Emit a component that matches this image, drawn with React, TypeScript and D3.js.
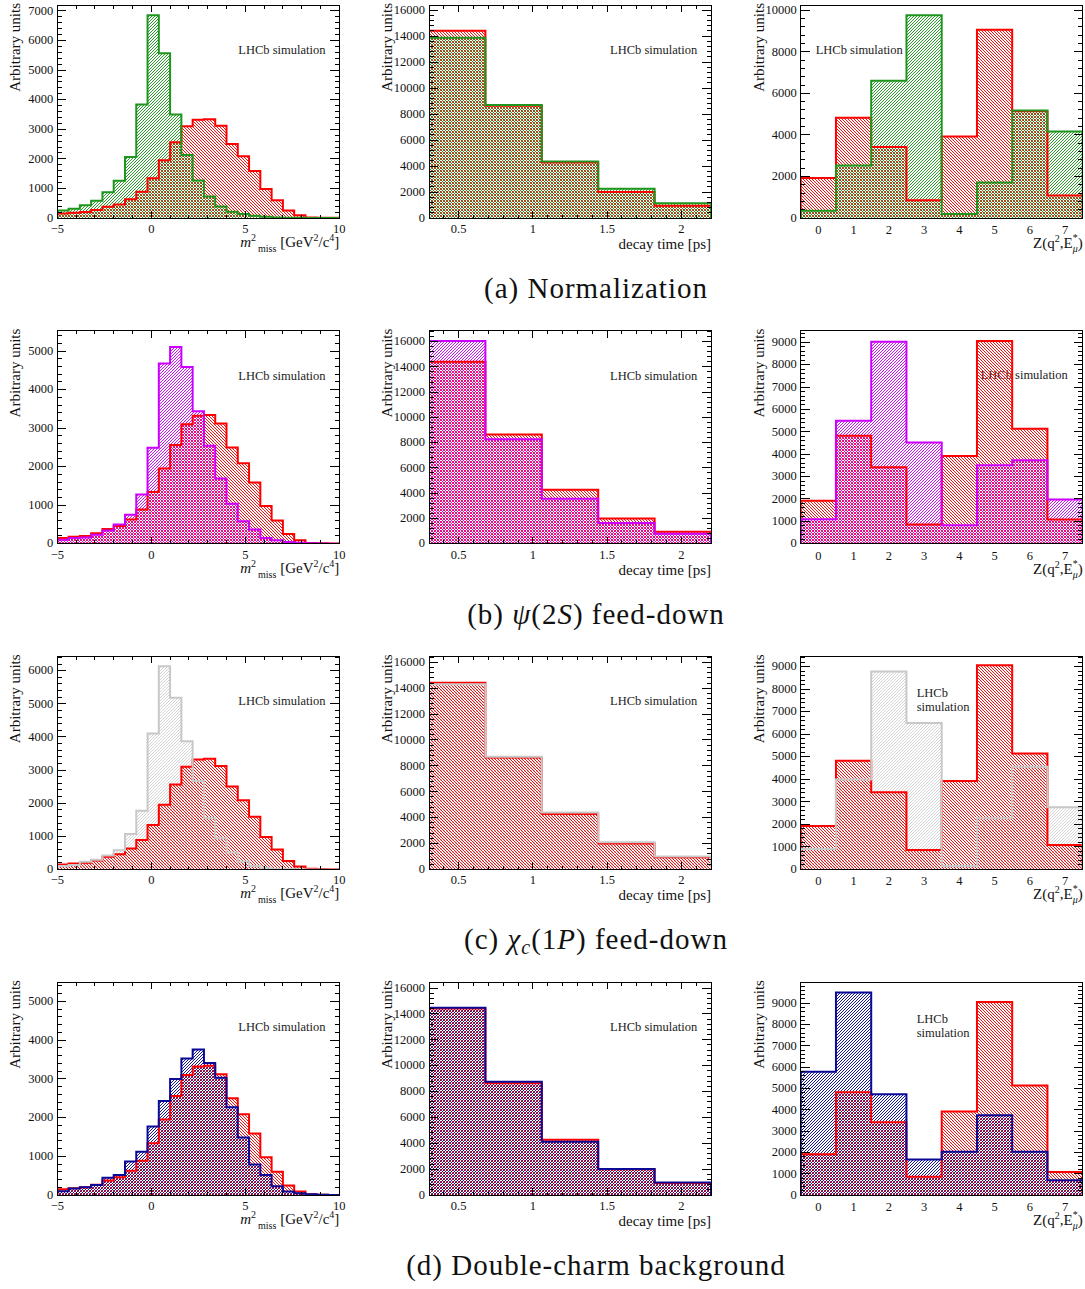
import React from "react";
import * as d3 from "d3";

// ---------- binning ----------
const m2Edges = [-5, -4.4, -3.8, -3.2, -2.6, -2.0, -1.4, -0.8, -0.2, 0.4, 1.0, 1.6, 2.2, 2.8, 3.4, 4.0, 4.6, 5.2, 5.8, 6.4, 7.0, 7.6, 8.2, 8.8, 9.4, 10];
const timeEdges = [0.3, 0.68, 1.06, 1.44, 1.82, 2.2];
const zEdges = [-0.5, 0.5, 1.5, 2.5, 3.5, 4.5, 5.5, 6.5, 7.5];

// ---------- tick labels ----------
const m2Ticks = [-5, 0, 5, 10];
const timeTicks = [0.5, 1, 1.5, 2];
const zLabels = ["0", "1", "2", "3", "4", "5", "6", "7"];

// ---------- signal (red) ----------
const signalM2 = [150, 180, 200, 270, 380, 460, 630, 890, 1340, 1950, 2560, 3100, 3320, 3340, 3120, 2500, 2090, 1590, 980, 600, 250, 90, 20, 10, 5];
const signalT = [14420, 8640, 4280, 2000, 940];
const signalZ = [1920, 4820, 3420, 860, 3920, 9060, 5140, 1080];

// ---------- normalization (green) ----------
const normM2 = [250, 315, 430, 585, 870, 1260, 2060, 3840, 6850, 5570, 3500, 2130, 1270, 730, 390, 210, 135, 80, 45, 20, 10, 5, 0, 0, 0];
const normT = [13880, 8700, 4350, 2250, 1130];
const normZ = [350, 2530, 6610, 9760, 190, 1710, 5170, 4160];

// ---------- psi(2S) feed-down (violet) ----------
const psiM2 = [100, 150, 160, 235, 340, 500, 750, 1280, 2490, 4680, 5110, 4590, 3440, 2540, 1690, 1040, 580, 370, 150, 90, 45, 25, 10, 5, 0];
const psiT = [16060, 8280, 3570, 1640, 790];
const psiZ = [1090, 5490, 9030, 4520, 820, 3510, 3730, 1970];

// ---------- chi_c(1P) feed-down (grey) ----------
const chiM2 = [100, 130, 230, 290, 420, 580, 1070, 1770, 4100, 6130, 5180, 3870, 2670, 1550, 940, 510, 240, 100, 50, 20, 10, 5, 0, 0, 0];
const chiT = [14300, 8700, 4400, 2100, 1000];
const chiZ = [900, 3990, 8780, 6490, 150, 2270, 4550, 2760];

// ---------- double-charm background (navy) ----------
const ddM2 = [100, 170, 200, 260, 450, 520, 870, 1120, 1770, 2430, 3000, 3530, 3760, 3410, 3030, 2270, 1490, 790, 520, 230, 90, 50, 25, 10, 5];
const ddT = [14480, 8760, 4130, 2020, 980];
const ddZ = [5790, 9500, 4730, 1670, 2030, 3750, 2030, 700];

// ---------- axis ranges ----------
const m2Max = [7200, 5530, 6430, 5500];
const timeMax = [16400, 16870, 16460, 16460];
const zMax = [10250, 9520, 9450, 9990];
const zMajor = [2000, 1000, 1000, 1000];

const RED = "#ff0000";
const GREEN = "#1e961e";
const VIOLET = "#cc00ff";
const GREY = "#c8c8c8";
const NAVY = "#0a0a96";

const FONT = "'Liberation Serif', 'Times New Roman', serif";
const COL_X = [57.3, 429, 800.7];
const FRAME_W = 282;
const FRAME_H = 213;
const ROW_TOP = 5;
const ROW_STEP = 325.7;
const HATCH = 3;

function Hatch({ id, color, dir, width }: { id: string; color: string; dir: "/" | "\\"; width: number }) {
  const s = HATCH;
  const d =
    dir === "/"
      ? `M0,${s} L${s},0 M-1,1 L1,-1 M${s - 1},${s + 1} L${s + 1},${s - 1}`
      : `M0,0 L${s},${s} M-1,${s - 1} L1,${s + 1} M${s - 1},-1 L${s + 1},1`;
  return (
    <pattern id={id} patternUnits="userSpaceOnUse" width={s} height={s}>
      <path d={d} stroke={color} strokeWidth={width} fill="none" />
    </pattern>
  );
}

type Series = { values: number[]; color: string; fill: string };
type Kind = "m2" | "t" | "z";

function M2Title(props: any) {
  return (
    <text {...props}>
      <tspan fontStyle="italic">m</tspan>
      <tspan dy={-6} fontSize={10}>2</tspan>
      <tspan dy={11} dx={2} fontSize={10}>miss</tspan>
      <tspan dy={-5}>{" [GeV"}</tspan>
      <tspan dy={-6} fontSize={10}>2</tspan>
      <tspan dy={6}>/c</tspan>
      <tspan dy={-6} fontSize={10}>4</tspan>
      <tspan dy={6}>]</tspan>
    </text>
  );
}

function ZTitle(props: any) {
  return (
    <text {...props}>
      <tspan>Z(q</tspan>
      <tspan dy={-6} fontSize={10}>2</tspan>
      <tspan dy={6}>,E</tspan>
      <tspan dy={-7} fontSize={10}>*</tspan>
      <tspan dx={-5} dy={11} fontSize={10} fontStyle="italic">μ</tspan>
      <tspan dy={-4}>)</tspan>
    </text>
  );
}

function Panel({
  left, top, kind, fills, outlines, yMax, yMajor, label, clipId,
}: {
  left: number; top: number; kind: Kind; fills: Series[]; outlines: Series[]; yMax: number; yMajor: number;
  label: { lines: string[]; dx: number; dy: number }; clipId: string;
}) {
  const edges = kind === "m2" ? m2Edges : kind === "t" ? timeEdges : zEdges;
  const x = d3.scaleLinear().domain([edges[0], edges[edges.length - 1]]).range([left, left + FRAME_W]);
  const y = d3.scaleLinear().domain([0, yMax]).range([top + FRAME_H, top]);
  const bottom = top + FRAME_H;
  const right = left + FRAME_W;

  const line = d3
    .line<[number, number]>()
    .x((p) => x(p[0]))
    .y((p) => y(p[1]))
    .curve(d3.curveStepAfter);

  const histPoints = (vals: number[]): [number, number][] => {
    const pts: [number, number][] = [[edges[0], 0]];
    vals.forEach((v, i) => pts.push([edges[i], v]));
    pts.push([edges[edges.length - 1], vals[vals.length - 1]]);
    pts.push([edges[edges.length - 1], 0]);
    return pts;
  };

  const yMajors = d3.range(0, yMax + 1e-6, yMajor);
  const yMinors = d3.range(0, yMax + 1e-6, yMajor / 5);

  let xMajors: number[] = [];
  let xMinors: number[] = [];
  if (kind === "m2") {
    xMajors = m2Ticks;
    xMinors = d3.ticks(-5, 10, 15);
  } else if (kind === "t") {
    xMajors = timeTicks;
    xMinors = d3.ticks(0.3, 2.2, 20);
  }

  const fmtX = (v: number) => (v < 0 ? `\u2212${Math.abs(v)}` : `${v}`);

  return (
    <g fontFamily={FONT} fill="#111">
      <clipPath id={clipId}>
        <rect x={left} y={top} width={FRAME_W} height={FRAME_H} />
      </clipPath>

      {label.lines.map((t, i) => (
        <text key={t} x={left + label.dx} y={top + label.dy + i * 13.5} fontSize={12.5} fill="#222">
          {t}
        </text>
      ))}

      <g clipPath={`url(#${clipId})`}>
        {fills.map((s, i) => (
          <path key={`f${i}`} d={(line(histPoints(s.values)) || "") + "Z"} fill={`url(#${s.fill})`} stroke="none" />
        ))}
        {outlines.map((s, i) => (
          <path
            key={`o${i}`}
            d={line(histPoints(s.values)) || ""}
            fill="none"
            stroke={s.color}
            strokeWidth={2}
            strokeLinejoin="miter"
          />
        ))}
      </g>

      <rect x={left} y={top} width={FRAME_W} height={FRAME_H} fill="none" stroke="#000" strokeWidth={1} shapeRendering="crispEdges" />

      {/* ticks on all four sides */}
      <g stroke="#000" strokeWidth={1} shapeRendering="crispEdges">
        {yMinors.map((v) => {
          const major = yMajors.some((m) => Math.abs(m - v) < 1e-6);
          const len = major ? 9 : 4.5;
          return (
            <g key={`y${v}`}>
              <line x1={left} x2={left + len} y1={y(v)} y2={y(v)} />
              <line x1={right} x2={right - len} y1={y(v)} y2={y(v)} />
            </g>
          );
        })}
        {xMinors.map((v) => {
          const major = xMajors.some((m) => Math.abs(m - v) < 1e-6);
          const len = major ? 7 : 3.5;
          return (
            <g key={`x${v}`}>
              <line x1={x(v)} x2={x(v)} y1={bottom} y2={bottom - len} />
              <line x1={x(v)} x2={x(v)} y1={top} y2={top + len} />
            </g>
          );
        })}
      </g>

      {yMajors.map((v) => (
        <text key={`yl${v}`} x={left - 4} y={y(v)} dy="0.3em" textAnchor="end" fontSize={12.5}>
          {v}
        </text>
      ))}

      {kind !== "z"
        ? xMajors.map((v) => (
            <text key={`xl${v}`} x={x(v)} y={bottom + 15} textAnchor="middle" fontSize={12.5}>
              {fmtX(v)}
            </text>
          ))
        : zLabels.map((t, i) => (
            <text key={`zl${t}`} x={x((zEdges[i] + zEdges[i + 1]) / 2)} y={bottom + 16} textAnchor="middle" fontSize={12.5}>
              {t}
            </text>
          ))}

      <text transform={`translate(${left - 37},${top - 2}) rotate(-90)`} textAnchor="end" fontSize={15}>
        Arbitrary units
      </text>

      {kind === "m2" && <M2Title x={right} y={bottom + 29} textAnchor="end" fontSize={15} />}
      {kind === "t" && (
        <text x={right} y={bottom + 31} textAnchor="end" fontSize={15}>
          decay time [ps]
        </text>
      )}
      {kind === "z" && <ZTitle x={right} y={bottom + 30} textAnchor="end" fontSize={15} />}
    </g>
  );
}

const oneLine = { lines: ["LHCb simulation"], dx: 181, dy: 49 };

const rows = [
  {
    key: "a",
    color: GREEN,
    fill: "hGreen",
    underSignal: false,
    m2: normM2, t: normT, z: normZ,
    zLabel: { lines: ["LHCb simulation"], dx: 15, dy: 49 },
    caption: <tspan>(a) Normalization</tspan>,
  },
  {
    key: "b",
    color: VIOLET,
    fill: "hViolet",
    underSignal: false,
    m2: psiM2, t: psiT, z: psiZ,
    zLabel: { lines: ["LHCb simulation"], dx: 180, dy: 48.5 },
    caption: (
      <>
        <tspan>(b) </tspan>
        <tspan fontStyle="italic">ψ</tspan>
        <tspan>(2</tspan>
        <tspan fontStyle="italic">S</tspan>
        <tspan>) feed-down</tspan>
      </>
    ),
  },
  {
    key: "c",
    color: GREY,
    fill: "hGrey",
    underSignal: true,
    m2: chiM2, t: chiT, z: chiZ,
    zLabel: { lines: ["LHCb", "simulation"], dx: 116, dy: 41 },
    caption: (
      <>
        <tspan>(c) </tspan>
        <tspan fontStyle="italic">χ</tspan>
        <tspan fontStyle="italic" fontSize={20} dy={5}>c</tspan>
        <tspan dy={-5}>(1</tspan>
        <tspan fontStyle="italic">P</tspan>
        <tspan>) feed-down</tspan>
      </>
    ),
  },
  {
    key: "d",
    color: NAVY,
    fill: "hNavy",
    underSignal: false,
    m2: ddM2, t: ddT, z: ddZ,
    zLabel: { lines: ["LHCb", "simulation"], dx: 116, dy: 41 },
    caption: <tspan>(d) Double-charm background</tspan>,
  },
];

function layers(signal: number[], other: number[], color: string, fill: string, under: boolean) {
  const sig: Series = { values: signal, color: RED, fill: "hRed" };
  const cmp: Series = { values: other, color, fill };
  return {
    fills: under ? [cmp, sig] : [sig, cmp],
    outlines: [sig, cmp],
  };
}

export default function App() {
  return (
    <svg
      width={1085}
      height={1289}
      viewBox="0 0 1085 1289"
      style={{ position: "absolute", left: 0, top: 0, background: "#fff" }}
    >
      <defs>
        <Hatch id="hRed" color={RED} dir="\" width={0.95} />
        <Hatch id="hGreen" color={GREEN} dir="/" width={0.95} />
        <Hatch id="hViolet" color={VIOLET} dir="/" width={0.95} />
        <Hatch id="hGrey" color={GREY} dir="/" width={0.8} />
        <Hatch id="hNavy" color={NAVY} dir="/" width={0.95} />
      </defs>
      <rect x={0} y={0} width={1085} height={1289} fill="#fff" />
      {rows.map((r, ri) => {
        const top = ROW_TOP + ri * ROW_STEP;
        return (
          <g key={r.key}>
            <Panel
              left={COL_X[0]} top={top} kind="m2" yMax={m2Max[ri]} yMajor={1000} label={oneLine}
              clipId={`clip-m2-${r.key}`}
              {...layers(signalM2, r.m2, r.color, r.fill, r.underSignal)}
            />
            <Panel
              left={COL_X[1]} top={top} kind="t" yMax={timeMax[ri]} yMajor={2000} label={oneLine}
              clipId={`clip-t-${r.key}`}
              {...layers(signalT, r.t, r.color, r.fill, r.underSignal)}
            />
            <Panel
              left={COL_X[2]} top={top} kind="z" yMax={zMax[ri]} yMajor={zMajor[ri]} label={r.zLabel}
              clipId={`clip-z-${r.key}`}
              {...layers(signalZ, r.z, r.color, r.fill, r.underSignal)}
            />
            <text
              x={596}
              y={top + 293}
              textAnchor="middle"
              fontFamily={FONT}
              fontSize={29}
              letterSpacing={1}
              fill="#111"
            >
              {r.caption}
            </text>
          </g>
        );
      })}
    </svg>
  );
}
